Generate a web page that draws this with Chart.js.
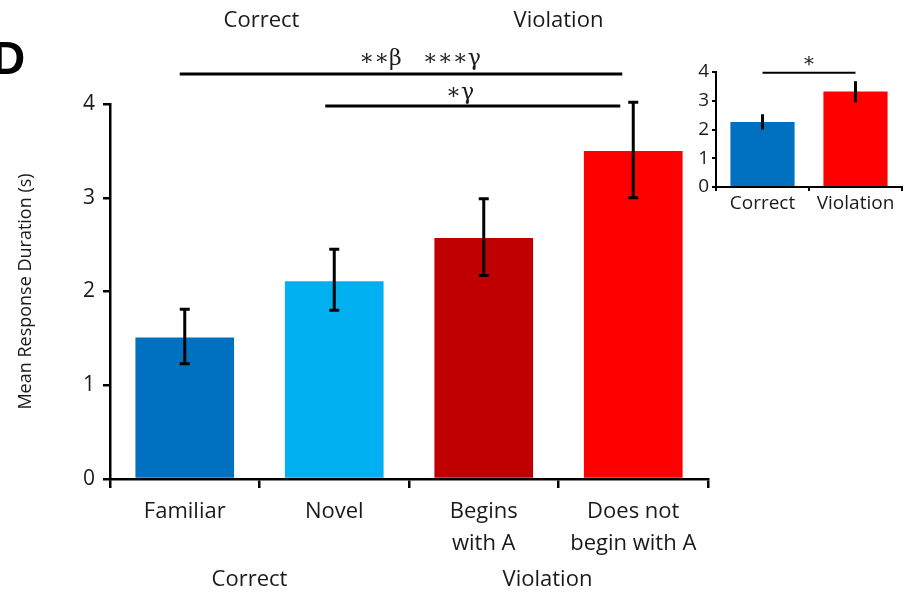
<!DOCTYPE html>
<html>
<head>
<meta charset="utf-8">
<script src="https://cdn.jsdelivr.net/npm/chart.js@4.4.1/dist/chart.umd.min.js"></script>
<style>
  html, body { margin: 0; padding: 0; background: #fff; }
  #wrap { position: relative; width: 904px; height: 594px; overflow: hidden; }
  #main { position: absolute; left: 0; top: 0; }
  #inset { position: absolute; left: 680px; top: 50px; }
</style>
</head>
<body>
<div id="wrap">
  <canvas id="main" width="904" height="594"></canvas>
  <canvas id="inset" width="224" height="180"></canvas>
</div>
<script>
// ---- Data ----
const categories = ['Familiar', 'Novel', ['Begins', 'with A'], ['Does not', 'begin with A']];
const meanDuration = [1.51, 2.11, 2.57, 3.50];
const errLower = [1.23, 1.80, 2.17, 3.00];
const errUpper = [1.81, 2.45, 2.99, 4.02];
const yTicks = [0, 1, 2, 3, 4];
const groupLabels = ['Correct', 'Violation'];
const sigLabels = ['\u2217\u2217\u03B2   \u2217\u2217\u2217\u03B3', '\u2217\u03B3'];

const insetCategories = ['Correct', 'Violation'];
const insetMean = [2.26, 3.32];
const insetLower = [2.00, 2.94];
const insetUpper = [2.53, 3.68];
const insetSig = ['\u2217'];

// ---- Styles ----
const barColors = ['#0070C0', '#00B0F0', '#C00000', '#FF0000'];
const insetColors = ['#0070C0', '#FF0000'];
const FONT = "'Open Sans', 'Liberation Sans', sans-serif";
const TXT = '#1a1a1a';

function errorBarPlugin(lo, hi, cap, lw) {
  return {
    id: 'errbars',
    afterDatasetsDraw(chart) {
      const { ctx, scales: { y } } = chart;
      const meta = chart.getDatasetMeta(0);
      ctx.save();
      ctx.strokeStyle = '#000';
      ctx.lineWidth = lw;
      meta.data.forEach((bar, i) => {
        const x = bar.x;
        const y1 = y.getPixelForValue(lo[i]);
        const y2 = y.getPixelForValue(hi[i]);
        ctx.beginPath();
        ctx.moveTo(x, y1); ctx.lineTo(x, y2);
        ctx.moveTo(x - cap, y1); ctx.lineTo(x + cap, y1);
        ctx.moveTo(x - cap, y2); ctx.lineTo(x + cap, y2);
        ctx.stroke();
      });
      ctx.restore();
    }
  };
}

const mainAnnot = {
  id: 'mainAnnot',
  afterDraw(chart) {
    const { ctx, scales: { x, y } } = chart;
    ctx.save();
    // significance lines
    ctx.strokeStyle = '#000';
    ctx.lineWidth = 3;
    const yl1 = y.getPixelForValue(4.32);
    const yl2 = y.getPixelForValue(3.98);
    ctx.beginPath();
    ctx.moveTo(x.getPixelForValue(0) - 5, yl1); ctx.lineTo(x.getPixelForValue(3) - 11, yl1);
    ctx.moveTo(x.getPixelForValue(1) - 9, yl2); ctx.lineTo(x.getPixelForValue(3) - 13, yl2);
    ctx.stroke();
    ctx.fillStyle = TXT;
    ctx.textAlign = 'center';
    ctx.textBaseline = 'middle';
    ctx.font = "22px 'DejaVu Serif', serif";
    ctx.fillText(sigLabels[0], 420, yl1 - 15);
    ctx.fillText(sigLabels[1], 460, yl2 - 13);
    // group labels top and bottom
    ctx.font = '22px ' + FONT;
    const g1 = (x.getPixelForValue(0) + x.getPixelForValue(1)) / 2;
    const g2 = (x.getPixelForValue(2) + x.getPixelForValue(3)) / 2;
    ctx.fillText(groupLabels[0], g1 + 2, 21);
    ctx.fillText(groupLabels[1], g2, 21);
    ctx.fillText(groupLabels[0], g1 - 10, 580);
    ctx.fillText(groupLabels[1], g2 - 11, 580);
    // panel letter
    ctx.textAlign = 'left';
    ctx.font = "bold 46px 'Liberation Sans', Arial, sans-serif";
    ctx.fillStyle = '#000';
    ctx.fillText('D', -8, 61);
    ctx.restore();
  }
};

new Chart(document.getElementById('main'), {
  type: 'bar',
  data: {
    labels: categories,
    datasets: [{
      data: meanDuration,
      backgroundColor: barColors,
      borderWidth: 0,
      barPercentage: 0.66,
      categoryPercentage: 1.0
    }]
  },
  options: {
    responsive: false,
    animation: false,
    layout: { padding: { left: 0, top: 104, right: 196, bottom: 0 } },
    plugins: { legend: { display: false }, tooltip: { enabled: false } },
    scales: {
      x: {
        afterFit(s) { s.height = 115; },
        grid: { display: true, offset: true, drawOnChartArea: false, tickLength: 9, color: '#000', lineWidth: 2.5 },
        border: { display: true, color: '#000', width: 2.5 },
        ticks: { color: TXT, font: { family: FONT, size: 22, lineHeight: 1.48 }, padding: 7, maxRotation: 0, autoSkip: false }
      },
      y: {
        min: 0, max: 4,
        afterFit(s) { s.width = 110; },
        afterBuildTicks(s) { s.ticks = yTicks.map(v => ({ value: v })); },
        grid: { display: true, drawOnChartArea: false, tickLength: 7, color: '#000', lineWidth: 2.5 },
        border: { display: true, color: '#000', width: 2.5 },
        ticks: { color: TXT, font: { family: FONT, size: 21 }, padding: 8 },
        title: { display: true, text: 'Mean Response Duration (s)', color: TXT, font: { family: FONT, size: 18 }, padding: { top: 15, bottom: 0 } }
      }
    }
  },
  plugins: [errorBarPlugin(errLower, errUpper, 5, 3), mainAnnot]
});

const insetAnnot = {
  id: 'insetAnnot',
  afterDraw(chart) {
    const { ctx, scales: { x, y } } = chart;
    ctx.save();
    ctx.strokeStyle = '#000';
    ctx.lineWidth = 2;
    const yl = y.getPixelForValue(3.97);
    const x1 = x.getPixelForValue(0), x2 = x.getPixelForValue(1);
    ctx.beginPath(); ctx.moveTo(x1, yl); ctx.lineTo(x2, yl); ctx.stroke();
    ctx.fillStyle = TXT;
    ctx.textAlign = 'center';
    ctx.textBaseline = 'middle';
    ctx.font = "20px 'DejaVu Serif', serif";
    ctx.fillText(insetSig[0], (x1 + x2) / 2, yl - 11);
    ctx.restore();
  }
};

new Chart(document.getElementById('inset'), {
  type: 'bar',
  data: {
    labels: insetCategories,
    datasets: [{
      data: insetMean,
      backgroundColor: insetColors,
      borderWidth: 0,
      barPercentage: 0.69,
      categoryPercentage: 1.0
    }]
  },
  options: {
    responsive: false,
    animation: false,
    layout: { padding: { left: 0, top: 22, right: 2, bottom: 0 } },
    plugins: { legend: { display: false }, tooltip: { enabled: false } },
    scales: {
      x: {
        afterFit(s) { s.height = 43; },
        grid: { display: true, offset: true, drawOnChartArea: false, tickLength: 4, color: '#000', lineWidth: 2 },
        border: { display: true, color: '#000', width: 2 },
        ticks: { color: TXT, font: { family: FONT, size: 19 }, padding: 1, maxRotation: 0, autoSkip: false }
      },
      y: {
        min: 0, max: 4,
        afterFit(s) { s.width = 36; },
        afterBuildTicks(s) { s.ticks = yTicks.map(v => ({ value: v })); },
        grid: { display: true, drawOnChartArea: false, tickLength: 4, color: '#000', lineWidth: 2 },
        border: { display: true, color: '#000', width: 2 },
        ticks: { color: TXT, font: { family: FONT, size: 19 }, padding: 3 }
      }
    }
  },
  plugins: [errorBarPlugin(insetLower, insetUpper, 0, 3), insetAnnot]
});
</script>
</body>
</html>
